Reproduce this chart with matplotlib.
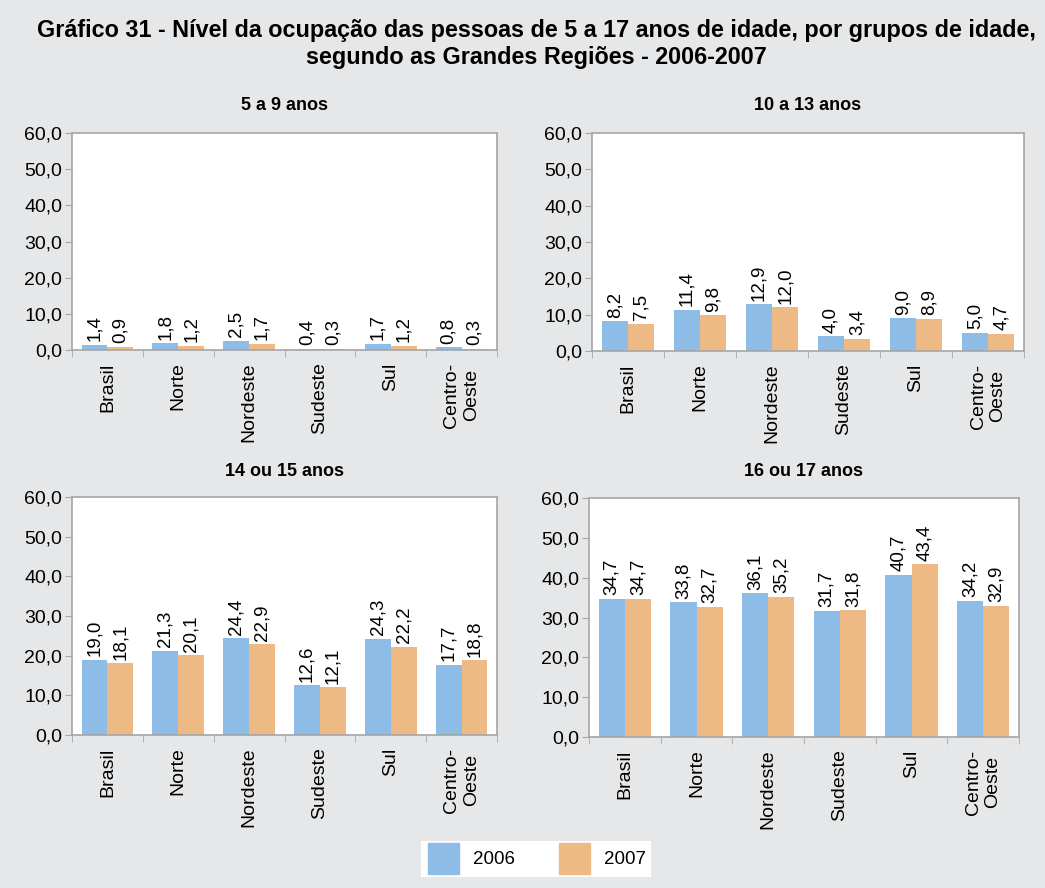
import matplotlib
matplotlib.use("Agg")
import matplotlib.pyplot as plt
import numpy as np

plt.rcParams['font.family'] = ['Liberation Sans', 'DejaVu Sans']

regions = ['Brasil', 'Norte', 'Nordeste', 'Sudeste', 'Sul', 'Centro-\nOeste']
years = ['2006', '2007']

age_5_9_2006 = [1.4, 1.8, 2.5, 0.4, 1.7, 0.8]
age_5_9_2007 = [0.9, 1.2, 1.7, 0.3, 1.2, 0.3]
age_10_13_2006 = [8.2, 11.4, 12.9, 4.0, 9.0, 5.0]
age_10_13_2007 = [7.5, 9.8, 12.0, 3.4, 8.9, 4.7]
age_14_15_2006 = [19.0, 21.3, 24.4, 12.6, 24.3, 17.7]
age_14_15_2007 = [18.1, 20.1, 22.9, 12.1, 22.2, 18.8]
age_16_17_2006 = [34.7, 33.8, 36.1, 31.7, 40.7, 34.2]
age_16_17_2007 = [34.7, 32.7, 35.2, 31.8, 43.4, 32.9]

panels = [
    ('5 a 9 anos', age_5_9_2006, age_5_9_2007),
    ('10 a 13 anos', age_10_13_2006, age_10_13_2007),
    ('14 ou 15 anos', age_14_15_2006, age_14_15_2007),
    ('16 ou 17 anos', age_16_17_2006, age_16_17_2007),
]

blue = '#8DBCE6'
orange = '#EDBA86'
bg = '#E6E7E8'
spine = '#A6A6A6'

W, H = 1045, 888
fig = plt.figure(figsize=(W / 100, H / 100), dpi=100, facecolor=bg)

fig.text(536 / W, 1 - 44 / H,
         'Gráfico 31 - Nível da ocupação das pessoas de 5 a 17 anos de idade, por grupos de idade,\n'
         'segundo as Grandes Regiões - 2006-2007',
         ha='center', va='center', fontsize=16.8, fontweight='bold', linespacing=1.2)

# pixel boxes: left, top, right, bottom
boxes = [(72, 133, 497, 350), (592, 133, 1024, 351),
         (72, 497, 497, 735), (589, 498, 1019, 737)]
title_y = [105, 105, 471, 471]

x = np.arange(len(regions))
bw = 0.365

for (title, v06, v07), (l, t, r, b), ty in zip(panels, boxes, title_y):
    ax = fig.add_axes([l / W, 1 - b / H, (r - l) / W, (b - t) / H])
    ax.set_facecolor('white')
    ax.bar(x - bw / 2, v06, bw, color=blue, label=years[0])
    ax.bar(x + bw / 2, v07, bw, color=orange, label=years[1])
    for xi, v in zip(x - bw / 2, v06):
        ax.annotate(f'{v:.1f}'.replace('.', ','), (xi, v), xytext=(0, 2.5),
                    textcoords='offset points', rotation=90, ha='center', va='bottom', fontsize=13.5)
    for xi, v in zip(x + bw / 2, v07):
        ax.annotate(f'{v:.1f}'.replace('.', ','), (xi, v), xytext=(0, 2.5),
                    textcoords='offset points', rotation=90, ha='center', va='bottom', fontsize=13.5)
    ax.set_xlim(-0.5, len(regions) - 0.5)
    ax.set_ylim(0, 60)
    ax.set_yticks(np.arange(0, 61, 10))
    ax.set_yticklabels([f'{v:.1f}'.replace('.', ',') for v in np.arange(0, 61, 10)], fontsize=14)
    ax.set_xticks(x)
    ax.set_xticklabels(regions, rotation=90, fontsize=14, va='top', ha='center',
                       multialignment='center', linespacing=1.2)
    ax.set_xticks(np.arange(-0.5, len(regions)), minor=True)
    ax.tick_params(axis='x', which='major', length=0, pad=9)
    ax.tick_params(axis='x', which='minor', length=5, color=spine)
    ax.tick_params(axis='y', length=5, color=spine, pad=2)
    for s in ax.spines.values():
        s.set_color(spine)
        s.set_linewidth(1.2)
    fig.text((l + r) / 2 / W, 1 - ty / H, title, ha='center', va='center',
             fontsize=13, fontweight='bold')

# legend box
lax = fig.add_axes([421 / W, 1 - 877 / H, 230 / W, 36 / H])
lax.set_facecolor('white')
lax.set_xlim(0, 230)
lax.set_ylim(0, 36)
lax.set_xticks([])
lax.set_yticks([])
for s in lax.spines.values():
    s.set_visible(False)
for x0, col, yr in [(7, blue, years[0]), (138, orange, years[1])]:
    lax.add_patch(plt.Rectangle((x0, 3), 31, 31, color=col))
    lax.text(x0 + 45, 18, yr, ha='left', va='center', fontsize=13.5)

fig.savefig('out.png', dpi=100, facecolor=bg)
